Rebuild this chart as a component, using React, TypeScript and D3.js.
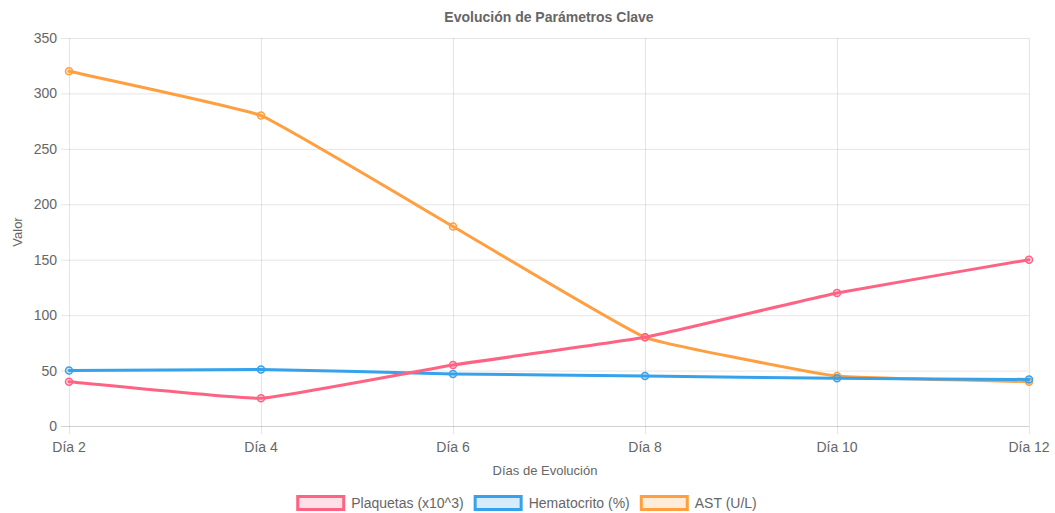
import React, { useEffect, useRef } from "react";
import * as d3 from "d3";

const categories = ["Día 2", "Día 4", "Día 6", "Día 8", "Día 10", "Día 12"];
const plaquetas = [40, 25, 55, 80, 120, 150];
const hematocrito = [50, 51, 47, 45, 43, 42];
const ast = [320, 280, 180, 80, 45, 40];
const yTicks = [0, 50, 100, 150, 200, 250, 300, 350];
const seriesNames = ["Plaquetas (x10^3)", "Hematocrito (%)", "AST (U/L)"];
const seriesColors = ["rgb(255, 99, 132)", "rgb(54, 162, 235)", "rgb(255, 159, 64)"];
const seriesFills = ["rgba(255, 99, 132, 0.2)", "rgba(54, 162, 235, 0.2)", "rgba(255, 159, 64, 0.2)"];

const W = 1055;
const H = 513;
const FONT = "'Liberation Sans', Arial, Helvetica, sans-serif";

type P = { x: number; y: number };

function splinePath(pts: P[], tension: number, area: { l: number; r: number; t: number; b: number }) {
  const cps: { px: number; py: number; nx: number; ny: number }[] = [];
  for (let i = 0; i < pts.length; i++) {
    const prev = pts[i - 1] || pts[i];
    const cur = pts[i];
    const next = pts[i + 1] || pts[i];
    const d01 = Math.hypot(cur.x - prev.x, cur.y - prev.y);
    const d12 = Math.hypot(next.x - cur.x, next.y - cur.y);
    let s01 = d01 / (d01 + d12);
    let s12 = d12 / (d01 + d12);
    s01 = isNaN(s01) ? 0 : s01;
    s12 = isNaN(s12) ? 0 : s12;
    const fa = tension * s01;
    const fb = tension * s12;
    const clampX = (v: number) => Math.max(area.l, Math.min(area.r, v));
    const clampY = (v: number) => Math.max(area.t, Math.min(area.b, v));
    cps.push({
      px: clampX(cur.x - fa * (next.x - prev.x)),
      py: clampY(cur.y - fa * (next.y - prev.y)),
      nx: clampX(cur.x + fb * (next.x - prev.x)),
      ny: clampY(cur.y + fb * (next.y - prev.y)),
    });
  }
  let d = `M${pts[0].x},${pts[0].y}`;
  for (let i = 1; i < pts.length; i++) {
    d += `C${cps[i - 1].nx},${cps[i - 1].ny},${cps[i].px},${cps[i].py},${pts[i].x},${pts[i].y}`;
  }
  return d;
}

export default function App() {
  const ref = useRef<SVGSVGElement>(null);

  useEffect(() => {
    const svg = d3.select(ref.current);
    svg.selectAll("*").remove();

    const left = 69, right = 1029, top = 38, bottom = 426;
    const x = d3.scalePoint<string>().domain(categories).range([left, right]);
    const y = d3.scaleLinear().domain([0, 350]).range([bottom, top]);

    const grid = svg.append("g");
    yTicks.forEach((t) => {
      grid.append("line")
        .attr("x1", left - 8).attr("x2", right)
        .attr("y1", y(t) + 0.5).attr("y2", y(t) + 0.5)
        .attr("stroke", t === 0 ? "rgba(0,0,0,0.18)" : "rgba(0,0,0,0.1)")
        .attr("stroke-width", 1);
      grid.append("text")
        .attr("x", left - 12).attr("y", y(t))
        .attr("text-anchor", "end").attr("dominant-baseline", "central")
        .attr("font-family", FONT).attr("font-size", 14).attr("fill", "#666")
        .text(String(t));
    });
    categories.forEach((c) => {
      const xx = Math.round(x(c)!) + 0.5;
      grid.append("line")
        .attr("x1", xx).attr("x2", xx)
        .attr("y1", top).attr("y2", bottom + 8)
        .attr("stroke", "rgba(0,0,0,0.1)").attr("stroke-width", 1);
      grid.append("text")
        .attr("x", x(c)!).attr("y", bottom + 21)
        .attr("text-anchor", "middle").attr("dominant-baseline", "central")
        .attr("font-family", FONT).attr("font-size", 14).attr("fill", "#666")
        .text(c);
    });

    svg.append("text")
      .attr("x", (left + right) / 2).attr("y", 17)
      .attr("text-anchor", "middle").attr("dominant-baseline", "central")
      .attr("font-family", FONT).attr("font-size", 14).attr("font-weight", "bold").attr("fill", "#666")
      .text("Evolución de Parámetros Clave");
    svg.append("text")
      .attr("x", (left + right) / 2 - 4).attr("y", 470)
      .attr("text-anchor", "middle").attr("dominant-baseline", "central")
      .attr("font-family", FONT).attr("font-size", 13).attr("fill", "#666")
      .text("Días de Evolución");
    svg.append("text")
      .attr("transform", `translate(17,${(top + bottom) / 2}) rotate(-90)`)
      .attr("text-anchor", "middle").attr("dominant-baseline", "central")
      .attr("font-family", FONT).attr("font-size", 13).attr("fill", "#666")
      .text("Valor");

    const allSeries = [plaquetas, hematocrito, ast];
    const area = { l: 0, r: W, t: top, b: bottom };
    for (let s = allSeries.length - 1; s >= 0; s--) {
      const pts = allSeries[s].map((v, i) => ({ x: x(categories[i])!, y: y(v) }));
      const g = svg.append("g");
      g.append("path")
        .attr("d", splinePath(pts, 0.1, area))
        .attr("fill", "none").attr("stroke", seriesColors[s])
        .attr("stroke-width", 3).attr("stroke-linejoin", "round").attr("stroke-linecap", "round");
      g.selectAll("circle").data(pts).enter().append("circle")
        .attr("cx", (p) => p.x).attr("cy", (p) => p.y).attr("r", 3.5)
        .attr("fill", seriesFills[s]).attr("stroke", seriesColors[s]).attr("stroke-width", 1.5);
    }

    const leg = svg.append("g");
    const boxW = 49, boxH = 13, gapText = 6, gapItem = 10;
    const widths: number[] = [];
    const tmp = svg.append("text").attr("font-family", FONT).attr("font-size", 14);
    seriesNames.forEach((n) => {
      tmp.text(n);
      widths.push((tmp.node() as SVGTextElement).getComputedTextLength());
    });
    tmp.remove();
    const total = widths.reduce((a, w) => a + boxW + gapText + w, 0) + gapItem * (seriesNames.length - 1);
    let cx = W / 2 - total / 2 - 1;
    const ly = 503;
    seriesNames.forEach((n, i) => {
      leg.append("rect")
        .attr("x", cx + 1.5).attr("y", ly - boxH / 2)
        .attr("width", boxW - 3).attr("height", boxH)
        .attr("fill", seriesFills[i]).attr("stroke", seriesColors[i]).attr("stroke-width", 3);
      leg.append("text")
        .attr("x", cx + boxW + gapText).attr("y", ly)
        .attr("dominant-baseline", "central")
        .attr("font-family", FONT).attr("font-size", 14).attr("fill", "#666")
        .text(n);
      cx += boxW + gapText + widths[i] + gapItem;
    });
  }, []);

  return (
    <svg ref={ref} width={W} height={H} style={{ position: "absolute", left: 0, top: 0, background: "#fff" }} />
  );
}
